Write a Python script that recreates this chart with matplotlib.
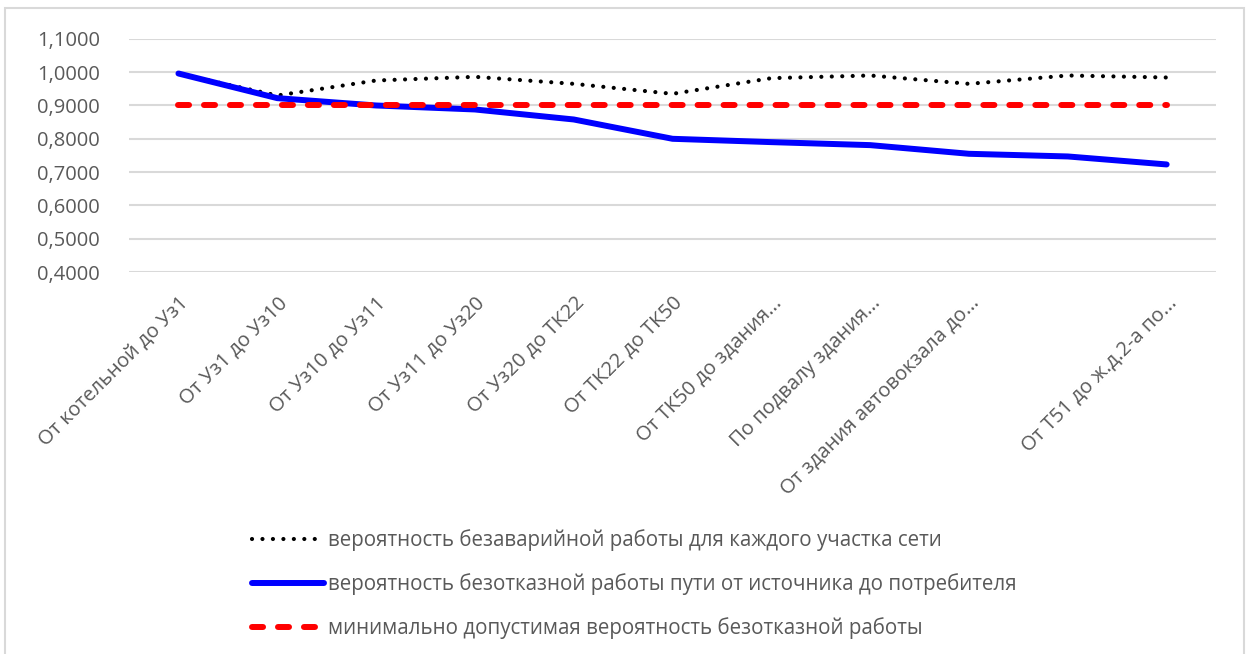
import matplotlib
matplotlib.use('Agg')
import matplotlib.pyplot as plt
from matplotlib.patches import Rectangle
from matplotlib.ticker import FuncFormatter

# Данные
categories = ['От котельной до Уз1', 'От Уз1 до Уз10', 'От Уз10 до Уз11', 'От Уз11 до Уз20',
              'От Уз20 до ТК22', 'От ТК22 до ТК50', 'От ТК50 до здания...', 'По подвалу здания...',
              'От здания автовокзала до...', '', 'От Т51 до ж.д.2-а по...']
p_section = [0.995, 0.930, 0.975, 0.986, 0.965, 0.935, 0.982, 0.990, 0.965, 0.990, 0.984]
p_path = [0.996, 0.922, 0.900, 0.888, 0.858, 0.800, 0.790, 0.781, 0.755, 0.747, 0.723]
p_min = [0.9] * len(categories)

label_section = 'вероятность безаварийной работы для каждого участка сети'
label_path = 'вероятность безотказной работы пути от источника до потребителя'
label_min = 'минимально допустимая вероятность безотказной работы'

plt.rcParams['font.family'] = ['Open Sans', 'DejaVu Sans']
grey = '#595959'

fig = plt.figure(figsize=(12.48, 6.54), dpi=100)
ax = fig.add_axes([0.1034, 0.584, 0.8710, 0.3566])

x = list(range(len(categories)))
ax.plot(x, p_section, color='black', lw=3, dashes=(0.01, 2.5),
        dash_capstyle='round', label=label_section, zorder=3)
ax.plot(x, p_path, color='#0000ff', lw=4.3, solid_capstyle='round',
        label=label_path, zorder=4)
ax.plot(x, p_min, color='#ff0000', lw=4.3, dashes=(1.85, 2.5),
        dash_capstyle='round', label=label_min, zorder=5)

ax.set_xlim(-0.5, len(categories) - 0.5)
ax.set_ylim(0.4, 1.1)
ax.set_yticks([0.4, 0.5, 0.6, 0.7, 0.8, 0.9, 1.0, 1.1])
ax.yaxis.set_major_formatter(FuncFormatter(lambda v, p: f'{v:.4f}'.replace('.', ',')))
ax.grid(axis='y', color='#d9d9d9', lw=1.5)
ax.set_axisbelow(True)
for s in ax.spines.values():
    s.set_visible(False)
ax.tick_params(length=0, labelsize=14.5, labelcolor=grey)
ax.tick_params(axis='y', pad=21)
ax.set_xticks(x)
ax.set_xticklabels(categories, rotation=45, ha='right', rotation_mode='anchor')
ax.tick_params(axis='x', pad=15)

fig.legend(loc='upper left', bbox_to_anchor=(0.187, 0.219), frameon=False,
           fontsize=14.8, labelcolor=grey, handlelength=3.5, handletextpad=0.18,
           labelspacing=1.07)

# рамка области диаграммы
fig.patches.append(Rectangle((5 / 1248, -0.1), 1239 / 1248, 1.1 - 8 / 654,
                             transform=fig.transFigure, fill=False,
                             edgecolor='#d9d9d9', lw=1.5))

fig.savefig('out.png', dpi=100)
